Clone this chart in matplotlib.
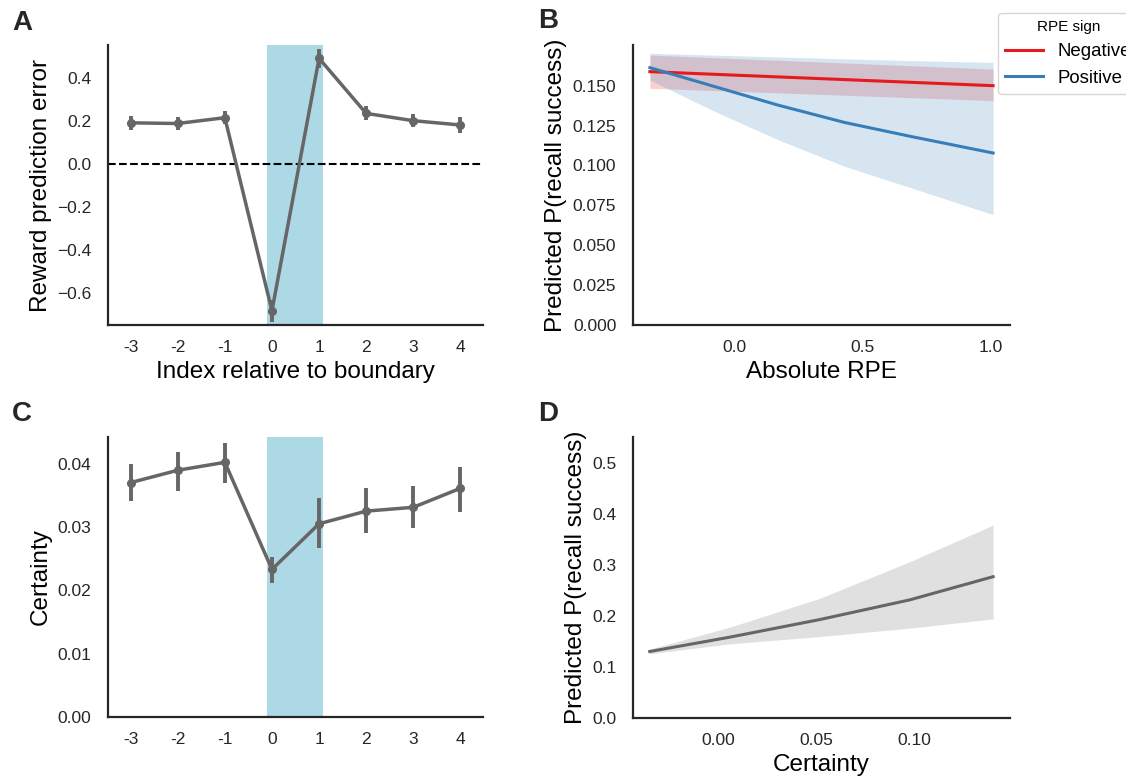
import matplotlib
matplotlib.use("Agg")
import matplotlib.pyplot as plt
import numpy as np

plt.rcParams["font.family"] = ["Liberation Sans", "DejaVu Sans"]

# panel A / C: categorical positions relative to boundary
offsets = ["-3", "-2", "-1", "0", "1", "2", "3", "4"]
rpe_mean = [0.193, 0.190, 0.217, -0.681, 0.493, 0.237, 0.203, 0.183]
rpe_err = [0.031, 0.030, 0.030, 0.050, 0.043, 0.033, 0.029, 0.039]

cert_mean = [0.0370, 0.03895, 0.0402, 0.0233, 0.0305, 0.0325, 0.0331, 0.0361]
cert_lo = [0.0341, 0.0356, 0.0370, 0.0212, 0.0267, 0.0290, 0.0299, 0.0323]
cert_hi = [0.0400, 0.0418, 0.0432, 0.0253, 0.0345, 0.0362, 0.0364, 0.0394]

# panel B: model predictions vs absolute RPE
abs_rpe = [-0.332, -0.091, 0.169, 0.430, 0.690, 1.009]
neg_pred = [0.1588, 0.1572, 0.1555, 0.1538, 0.1521, 0.1500]
neg_lo = [0.1484, 0.1470, 0.1455, 0.1440, 0.1425, 0.1406]
neg_hi = [0.1692, 0.1676, 0.1659, 0.1642, 0.1625, 0.1604]
pos_pred = [0.1613, 0.1500, 0.1378, 0.1269, 0.1181, 0.1078]
pos_lo = [0.1536, 0.1348, 0.1161, 0.0994, 0.0859, 0.0692]
pos_hi = [0.1703, 0.1692, 0.1680, 0.1668, 0.1657, 0.1646]

# panel D: model predictions vs certainty
certainty = [-0.0347, 0.0060, 0.0517, 0.0975, 0.1399]
cert_pred = [0.1306, 0.1588, 0.1933, 0.2320, 0.2776]
cert_pred_lo = [0.1261, 0.1457, 0.1600, 0.1765, 0.1947]
cert_pred_hi = [0.1353, 0.1784, 0.2349, 0.3070, 0.3790]

GREY = "#666666"
RED = "#e41a1c"
BLUE = "#377eb8"
SPINE = "#262626"
LABEL_FS = 17.5
TICK_FS = 12.5

W, H = 1126, 781
fig = plt.figure(figsize=(W / 100, H / 100), dpi=100)


def axes_px(left, top, right, bottom):
    return fig.add_axes([left / W, 1 - bottom / H, (right - left) / W, (bottom - top) / H])


def style(ax):
    for side in ("top", "right"):
        ax.spines[side].set_visible(False)
    for side in ("left", "bottom"):
        ax.spines[side].set_color(SPINE)
        ax.spines[side].set_linewidth(1.6)
    ax.tick_params(axis="both", length=0, labelsize=TICK_FS, colors=SPINE)
    ax.tick_params(axis="x", pad=11)
    ax.tick_params(axis="y", pad=12)


def point_panel(ax, mean, lo, hi):
    x = np.arange(len(offsets))
    ax.axvspan(2.9, 4.08, color="lightblue", lw=0, zorder=0)
    ax.vlines(x, lo, hi, color=GREY, lw=2.8, zorder=3)
    ax.plot(x, mean, color=GREY, lw=2.5, marker="o", ms=5.5, zorder=4)
    ax.set_xticks(x)
    ax.set_xticklabels(offsets)
    ax.set_xlim(-0.48, 7.48)


ax_a = axes_px(108, 45, 483, 325)
style(ax_a)
lo_a = [m - e for m, e in zip(rpe_mean, rpe_err)]
hi_a = [m + e for m, e in zip(rpe_mean, rpe_err)]
point_panel(ax_a, rpe_mean, lo_a, hi_a)
ax_a.axhline(0, color="black", ls="--", lw=1.5, zorder=2)
ax_a.set_ylim(-0.747, 0.555)
ax_a.set_yticks([-0.6, -0.4, -0.2, 0.0, 0.2, 0.4])
ax_a.set_ylabel("Reward prediction error", fontsize=LABEL_FS)
ax_a.set_xlabel("Index relative to boundary", fontsize=LABEL_FS)

ax_c = axes_px(108, 437, 483, 717)
style(ax_c)
point_panel(ax_c, cert_mean, cert_lo, cert_hi)
ax_c.set_ylim(0, 0.0442)
ax_c.set_yticks([0.0, 0.01, 0.02, 0.03, 0.04])
ax_c.set_yticklabels(["0.00", "0.01", "0.02", "0.03", "0.04"])
ax_c.set_ylabel("Certainty", fontsize=LABEL_FS)

ax_b = axes_px(633, 45, 1010, 325)
style(ax_b)
ax_b.fill_between(abs_rpe, neg_lo, neg_hi, color=RED, alpha=0.2, lw=0)
ax_b.fill_between(abs_rpe, pos_lo, pos_hi, color=BLUE, alpha=0.2, lw=0)
ax_b.plot(abs_rpe, neg_pred, color=RED, lw=2.2, label="Negative")
ax_b.plot(abs_rpe, pos_pred, color=BLUE, lw=2.2, label="Positive")
ax_b.set_xlim(-0.398, 1.075)
ax_b.set_xticks([0.0, 0.5, 1.0])
ax_b.set_ylim(0, 0.1755)
ax_b.set_yticks(np.arange(0, 0.16, 0.025))
ax_b.set_yticklabels(["%.3f" % v for v in np.arange(0, 0.16, 0.025)])
ax_b.set_ylabel("Predicted P(recall success)", fontsize=LABEL_FS)
ax_b.set_xlabel("Absolute RPE", fontsize=LABEL_FS)

ax_d = axes_px(633, 437, 1010, 718)
style(ax_d)
ax_d.fill_between(certainty, cert_pred_lo, cert_pred_hi, color=GREY, alpha=0.2, lw=0)
ax_d.plot(certainty, cert_pred, color=GREY, lw=2.2)
ax_d.set_xlim(-0.0432, 0.1485)
ax_d.set_xticks([0.0, 0.05, 0.10])
ax_d.set_xticklabels(["0.00", "0.05", "0.10"])
ax_d.set_ylim(0, 0.552)
ax_d.set_yticks([0.0, 0.1, 0.2, 0.3, 0.4, 0.5])
ax_d.set_ylabel("Predicted P(recall success)", fontsize=LABEL_FS)
ax_d.set_xlabel("Certainty", fontsize=LABEL_FS)

# legend sits partly past the right edge, as in the original figure
handles, labels = ax_b.get_legend_handles_labels()
leg = fig.legend(handles, labels, title="RPE sign", loc="upper left",
                 bbox_to_anchor=(998 / W, 1 - 12.7 / H), borderaxespad=0,
                 fontsize=13.4, title_fontsize=11, frameon=True, fancybox=True)
leg.get_frame().set_edgecolor("#cccccc")

for letter, (px, py) in zip("ABCD", [(22, 23), (548, 21), (22, 414), (548, 414)]):
    fig.text(px / W, 1 - py / H, letter, fontsize=20, fontweight="bold",
             ha="center", va="center", color=SPINE)

fig.savefig("out.png", dpi=100)
